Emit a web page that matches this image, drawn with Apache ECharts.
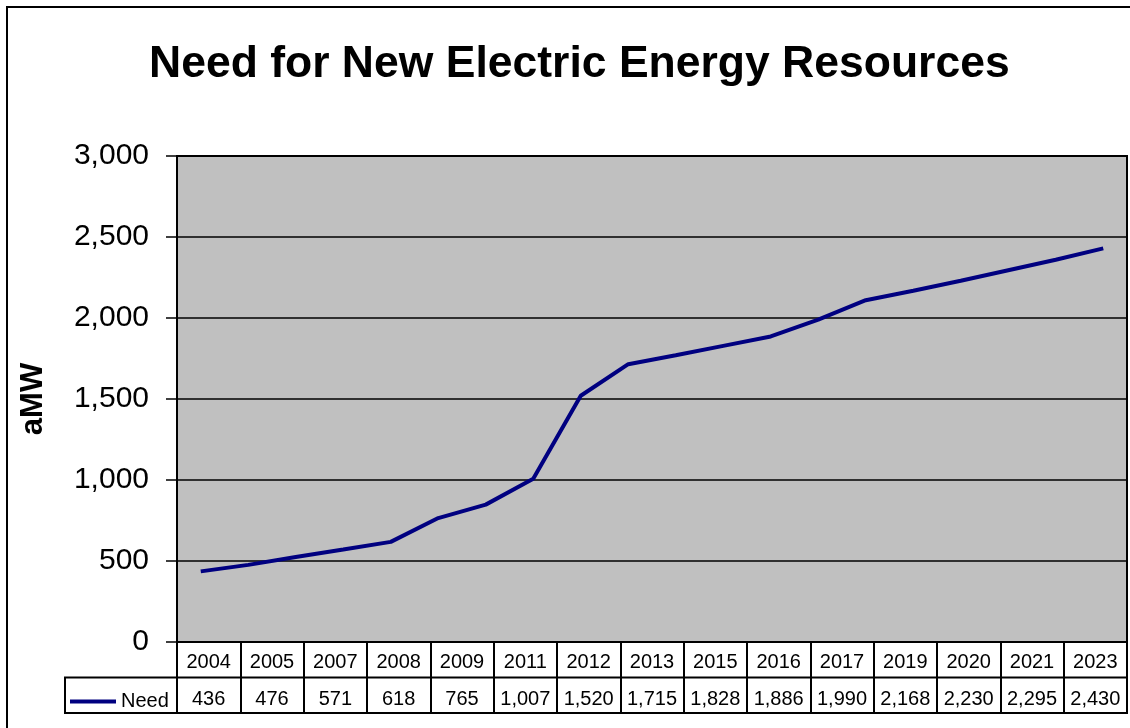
<!DOCTYPE html>
<html>
<head>
<meta charset="utf-8">
<script src="https://cdn.jsdelivr.net/npm/echarts@6/dist/echarts.min.js"></script>
<style>
html,body{margin:0;padding:0;background:#fff;}
#c{width:1130px;height:728px;}
</style>
</head>
<body>
<div id="c"></div>
<script>
// Line data: every year 2004-2023
const lineYears = ['2004','2005','2006','2007','2008','2009','2010','2011','2012','2013','2014','2015','2016','2017','2018','2019','2020','2021','2022','2023'];
const lineValues = [436,476,525,571,618,765,848,1007,1520,1715,1770,1828,1886,1990,2110,2168,2230,2295,2360,2430];
// Data table shown under the chart
const tableYears = ['2004','2005','2007','2008','2009','2011','2012','2013','2015','2016','2017','2019','2020','2021','2023'];
const tableValues = [436,476,571,618,765,1007,1520,1715,1828,1886,1990,2168,2230,2295,2430];
const yTicks = [0,500,1000,1500,2000,2500,3000];

const W = 1130, H = 728;
const G = {left:177, top:156, right:1127, bottom:642};
const rowH = 35.5;
const fmt = v => Number(v).toLocaleString('en-US');
const FONT = '"Liberation Sans", Arial, sans-serif';

const chart = echarts.init(document.getElementById('c'), null, {renderer:'canvas'});
chart.setOption({
  animation:false,
  backgroundColor:'#fff',
  title:{
    text:'Need for New Electric Energy Resources',
    left:149, top:42, padding:0,
    textStyle:{fontFamily:FONT, fontSize:44.5, fontWeight:'bold', color:'#000'}
  },
  legend:{
    data:[{name:'Need', icon:'rect'}], left:70, top:G.bottom+rowH+14, padding:0,
    itemWidth:46, itemHeight:4,
    textStyle:{fontFamily:FONT, fontSize:20, color:'#000'}
  },
  grid:{
    left:G.left, top:G.top, width:G.right-G.left, height:G.bottom-G.top,
    show:true, backgroundColor:'#C0C0C0', borderColor:'#000', borderWidth:2
  },
  xAxis:[
    {type:'category', data:lineYears, show:false, boundaryGap:true},
    {type:'category', data:tableYears, position:'bottom', boundaryGap:true,
     axisLine:{show:true, lineStyle:{color:'#000', width:2}},
     axisTick:{show:true, interval:0, length:rowH*2, lineStyle:{color:'#000', width:2}},
     axisLabel:{interval:0, margin:10, fontFamily:FONT, fontSize:20, color:'#000'}},
    {type:'category', data:tableValues, position:'bottom', offset:rowH, boundaryGap:true,
     axisLine:{show:false}, axisTick:{show:false},
     axisLabel:{interval:0, margin:12, fontFamily:FONT, fontSize:20, color:'#000', formatter:fmt}}
  ],
  yAxis:{
    type:'value', min:yTicks[0], max:yTicks[yTicks.length-1], interval:500,
    name:'aMW', nameLocation:'middle', nameRotate:90, nameGap:128,
    nameTextStyle:{fontFamily:FONT, fontSize:31, fontWeight:'bold', color:'#000'},
    axisLine:{show:true, lineStyle:{color:'#000', width:2}},
    axisTick:{show:true, length:11, lineStyle:{color:'#000', width:1.5}},
    axisLabel:{margin:28, fontFamily:FONT, fontSize:30, color:'#000', formatter:fmt},
    splitLine:{show:true, lineStyle:{color:'#000', width:1.5}}
  },
  graphic:[
    {type:'rect', shape:{x:7, y:7, width:W+20, height:H+20}, style:{fill:'none', stroke:'#000', lineWidth:2}, silent:true},
    {type:'rect', shape:{x:65, y:G.bottom+rowH, width:G.right-65, height:rowH}, style:{fill:'none', stroke:'#000', lineWidth:2}, silent:true, z:10}
  ],
  series:[{
    name:'Need', type:'line', xAxisIndex:0, data:lineValues,
    symbol:'none', color:'#000080',
    lineStyle:{color:'#000080', width:4}
  }]
});
</script>
</body>
</html>
